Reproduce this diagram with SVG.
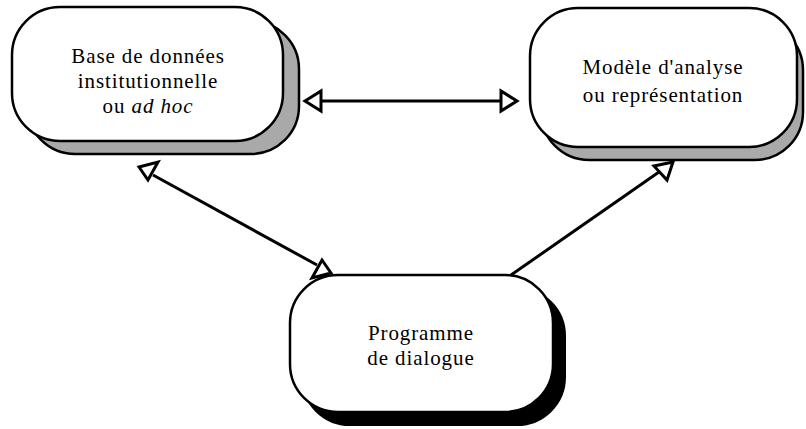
<svg xmlns="http://www.w3.org/2000/svg" width="806" height="429" viewBox="0 0 806 429">
<defs>
<style>
.front{fill:#fff;stroke:#000;stroke-width:2.5}
.shadow{fill:#a9a9a9;stroke:#000;stroke-width:2.5}
.shadowk{fill:#000;stroke:#000;stroke-width:2}
.t{font-family:"Liberation Serif","Times New Roman",serif;font-size:21px;text-anchor:middle;fill:#000;letter-spacing:0.9px}
.c{stroke:#000;stroke-width:3;fill:none}
.h{fill:#fff;stroke:#000;stroke-width:3;stroke-linejoin:miter}
</style>
</defs>
<rect width="806" height="429" fill="#fff"/>
<g id="node-base">
<rect class="shadow" x="27" y="21" width="272" height="133" rx="48"/>
<rect class="front" x="12" y="7" width="271" height="134" rx="48"/>
<text class="t" x="148" y="63">Base de données</text>
<text class="t" x="148" y="88">institutionnelle</text>
<text class="t" x="148" y="113">ou <tspan font-style="italic">ad hoc</tspan></text>
</g>
<g id="node-modele">
<rect class="shadow" x="541" y="22" width="262" height="138" rx="48"/>
<rect class="front" x="530" y="8" width="267" height="139" rx="48"/>
<text class="t" x="663" y="74">Modèle d'analyse</text>
<text class="t" x="663" y="102">ou représentation</text>
</g>
<g id="node-programme">
<rect class="shadowk" x="302" y="288" width="263" height="137" rx="48"/>
<rect class="front" x="290" y="275" width="263" height="137" rx="48"/>
<text class="t" x="421" y="340">Programme</text>
<text class="t" x="421" y="365">de dialogue</text>
</g>
<g id="connectors">
<line class="c" x1="320" y1="101" x2="501" y2="101"/>
<polygon class="h" points="305,101 321,91 321,111"/>
<polygon class="h" points="517,101 501,91 501,111"/>
<line class="c" x1="153" y1="175" x2="317" y2="265"/>
<polygon class="h" points="139,167 158,162 148,180"/>
<polygon class="h" points="331,273 312,278 322,260"/>
<line class="c" x1="511" y1="275" x2="659" y2="172"/>
<polygon class="h" points="673,162 667,180 654,166"/>
</g>
</svg>
